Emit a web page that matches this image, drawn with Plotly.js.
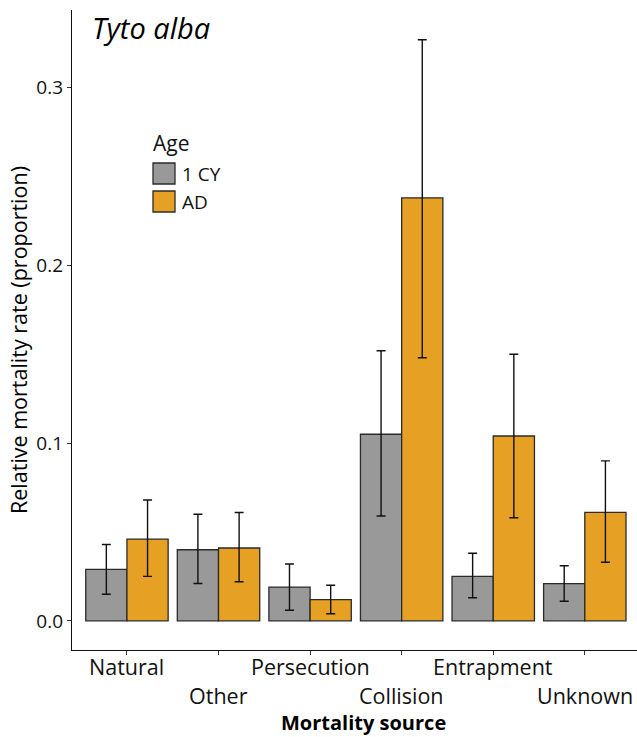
<!DOCTYPE html>
<html>
<head>
<meta charset="utf-8">
<script src="https://cdn.plot.ly/plotly-3.0.1.min.js"></script>
<style>html,body{margin:0;padding:0;background:#fff;}#chart{width:637px;height:737px;}</style>
</head>
<body>
<div id="chart"></div>
<script>
// ---- data ----
const categories = ["Natural", "Other", "Persecution", "Collision", "Entrapment", "Unknown"];
const tickLabels = ["Natural", "Other", "Persecution", "Collision", "Entrapment", "Unknown"];
const seriesNames = ["1 CY", "AD"];
const seriesColors = ["#999999", "#E6A024"];
const cy1Values = [0.029, 0.040, 0.019, 0.105, 0.025, 0.021];
const cy1Lower  = [0.015, 0.021, 0.006, 0.059, 0.013, 0.011];
const cy1Upper  = [0.043, 0.060, 0.032, 0.152, 0.038, 0.031];
const adValues  = [0.046, 0.041, 0.012, 0.238, 0.104, 0.061];
const adLower   = [0.025, 0.022, 0.004, 0.148, 0.058, 0.033];
const adUpper   = [0.068, 0.061, 0.020, 0.327, 0.150, 0.090];
const yTickVals = [0, 0.1, 0.2, 0.3];
const yTickText = ["0.0", "0.1", "0.2", "0.3"];

const FONT = "Open Sans, Noto Sans, sans-serif";

function barTrace(name, color, vals, lo, hi) {
  return {
    type: "bar",
    name: name,
    x: categories,
    y: vals,
    marker: { color: color, line: { color: "#2b2b2b", width: 1.3 } },
    error_y: {
      type: "data",
      symmetric: false,
      array: hi.map((h, i) => h - vals[i]),
      arrayminus: lo.map((l, i) => vals[i] - l),
      color: "#111111",
      thickness: 1.4,
      width: 4.5
    },
    showlegend: false,
    hoverinfo: "x+y+name"
  };
}

const data = [
  barTrace(seriesNames[0], seriesColors[0], cy1Values, cy1Lower, cy1Upper),
  barTrace(seriesNames[1], seriesColors[1], adValues, adLower, adUpper)
];

// plot area pixel geometry (for legend / titles placement)
const L = 72, R = 0, T = 10, B = 87, W = 637, H = 737;
const pw = W - L - R, ph = H - T - B;
const px = v => (v - L) / pw;
const py = v => (H - B - v) / ph;

const shapes = [];
const annotations = [];

// staggered category labels (two rows), placed on the category axis
tickLabels.forEach((lab, i) => {
  annotations.push({
    xref: "x", yref: "paper", x: categories[i], y: py(i % 2 === 0 ? 666 : 695),
    xanchor: "center", yanchor: "middle", showarrow: false,
    text: lab, font: { family: FONT, size: 21.5, color: "#111" }
  });
});

// custom legend built from series arrays
annotations.push({
  xref: "paper", yref: "paper", x: px(151), y: py(143),
  xanchor: "left", yanchor: "middle", showarrow: false,
  text: "Age", font: { family: FONT, size: 21, color: "#111" }
});
seriesNames.forEach((n, i) => {
  const top = 163 + i * 28;
  shapes.push({
    type: "rect", xref: "paper", yref: "paper",
    x0: px(153), x1: px(175), y0: py(top + 21), y1: py(top),
    fillcolor: seriesColors[i], line: { color: "#2b2b2b", width: 1.3 }
  });
  annotations.push({
    xref: "paper", yref: "paper", x: px(180), y: py(top + 11),
    xanchor: "left", yanchor: "middle", showarrow: false,
    text: n, font: { family: FONT, size: 19, color: "#111" }
  });
});

// species title
annotations.push({
  xref: "paper", yref: "paper", x: px(90), y: py(28),
  xanchor: "left", yanchor: "middle", showarrow: false,
  text: "<i>Tyto alba</i>", font: { family: FONT, size: 29, color: "#000" }
});
// axis titles
annotations.push({
  xref: "paper", yref: "paper", x: px(363), y: py(722),
  xanchor: "center", yanchor: "middle", showarrow: false,
  text: "<b>Mortality source</b>", font: { family: FONT, size: 20, color: "#000" }
});
annotations.push({
  xref: "paper", yref: "paper", x: px(18), y: py(340),
  xanchor: "center", yanchor: "middle", showarrow: false, textangle: -90,
  text: "Relative mortality rate (proportion)", font: { family: FONT, size: 21.5, color: "#000" }
});

const layout = {
  width: W, height: H,
  margin: { l: L, r: R, t: T, b: B, pad: 0 },
  paper_bgcolor: "#ffffff", plot_bgcolor: "#ffffff",
  barmode: "group", bargap: 0.1, bargroupgap: 0,
  showlegend: false,
  font: { family: FONT, color: "#111" },
  xaxis: {
    type: "category",
    categoryarray: categories,
    range: [-0.6, 5.57],
    tickvals: categories,
    showticklabels: false,
    ticks: "outside", ticklen: 4, tickwidth: 1, tickcolor: "#333",
    showline: true, linecolor: "#111", linewidth: 1.2,
    showgrid: false, zeroline: false,
    automargin: false
  },
  yaxis: {
    range: [-0.0164, 0.3437],
    tickvals: yTickVals, ticktext: yTickText,
    ticks: "outside", ticklen: 4, tickwidth: 1, tickcolor: "#333",
    tickfont: { family: FONT, size: 19, color: "#111" },
    showline: true, linecolor: "#111", linewidth: 1.2,
    showgrid: false, zeroline: false,
    automargin: false
  },
  shapes: shapes,
  annotations: annotations
};

Plotly.newPlot("chart", data, layout, { displayModeBar: false, staticPlot: true });
</script>
</body>
</html>
